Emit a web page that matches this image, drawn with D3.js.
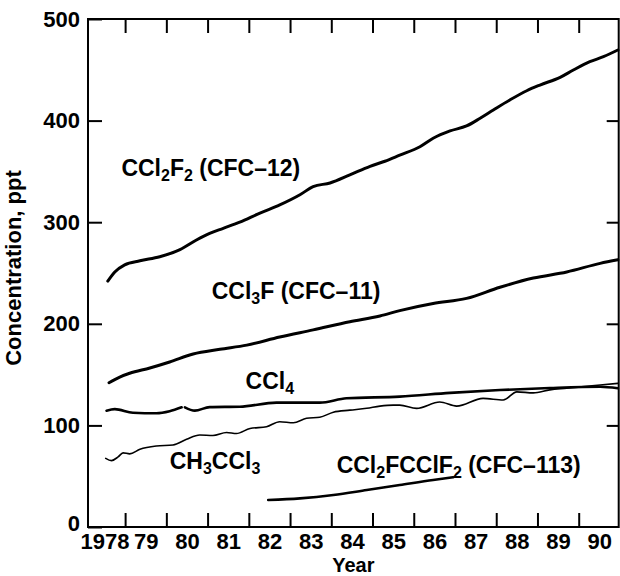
<!DOCTYPE html>
<html>
<head>
<meta charset="utf-8">
<script src="https://cdnjs.cloudflare.com/ajax/libs/d3/7.8.5/d3.min.js"></script>
<style>
body { margin: 0; background: #fff; }
text { font-family: "Liberation Sans", Arial, Helvetica, sans-serif; font-weight: bold; fill: #000; }
.axis .domain { display: none; }
.axis line { stroke: #000; stroke-width: 2; }
.frame { fill: none; stroke: #000; stroke-width: 2; }
.series { fill: none; stroke: #000; stroke-linejoin: round; stroke-linecap: round; }
</style>
</head>
<body>
<svg id="chart" width="620" height="576"></svg>
<script>
/* tick values and labels */
var yearTicks = [1979, 1980, 1981, 1982, 1983, 1984, 1985, 1986, 1987, 1988, 1989, 1990]
var yearLabels = ["1978", "79", "80", "81", "82", "83", "84", "85", "86", "87", "88", "89", "90"]
var labelYears = [1978, 1979, 1980, 1981, 1982, 1983, 1984, 1985, 1986, 1987, 1988, 1989, 1990]
var concTicks = [0, 100, 200, 300, 400, 500]
var frameTicks = [100, 200, 300, 400]

/* series: [year, ppt] */
var cfc12 = [[1978.58, 242], [1978.75, 251], [1978.99, 258], [1979.36, 262], [1979.84, 266],
  [1980.33, 273], [1980.73, 282.5], [1981.05, 289], [1981.38, 294], [1981.78, 300],
  [1982.27, 309], [1982.75, 317], [1983.24, 327], [1983.56, 335], [1983.97, 338.6],
  [1984.45, 346.5], [1984.94, 355], [1985.30, 360], [1985.66, 366], [1986.15, 374.3],
  [1986.47, 382.6], [1986.88, 389.8], [1987.28, 394.7], [1987.61, 402.3], [1987.93, 410.4],
  [1988.33, 420.3], [1988.74, 429.4], [1989.06, 435], [1989.55, 442.6], [1989.87, 449.8],
  [1990.27, 458], [1990.60, 462.9], [1990.95, 469.5]]

var cfc11 = [[1978.61, 142], [1978.87, 147.6], [1979.11, 151.3], [1979.60, 156.5], [1980.08, 162.4],
  [1980.65, 170.3], [1981.30, 174.9], [1981.95, 179], [1982.75, 187], [1983.56, 194],
  [1984.45, 202], [1985.18, 207.7], [1985.66, 213], [1986.47, 220], [1987.28, 225],
  [1988.09, 236], [1988.90, 245], [1989.71, 251], [1990.52, 259.5], [1990.95, 263]]

var ccl4 = [[1978.55, 114.5], [1978.75, 116], [1979.19, 112.5], [1979.76, 112], [1980.08, 114],
  [1980.37, 117.8], [1980.41, null], [1980.45, 117.8], [1980.69, 114.5], [1981.05, 118],
  [1981.78, 118.4], [1982.67, 122.4], [1983.72, 122.4], [1984.37, 126.7], [1985.66, 128.3],
  [1986.88, 132], [1988.09, 134.8], [1989.30, 136.8], [1990.52, 138], [1990.95, 136.5]]

var ch3ccl3 = [[1978.53, 67.6], [1978.67, 65.3], [1978.83, 69], [1978.95, 73], [1979.11, 72],
  [1979.36, 76.5], [1979.76, 79.7], [1980.16, 80.7], [1980.49, 86.3], [1980.81, 90.5],
  [1981.13, 90], [1981.46, 93], [1981.70, 92], [1982.03, 97], [1982.43, 98.7],
  [1982.75, 103.6], [1983.08, 102.6], [1983.40, 107], [1983.72, 108], [1984.05, 113],
  [1984.45, 115], [1984.86, 116.8], [1985.18, 119], [1985.50, 120], [1985.66, 120],
  [1986.07, 116.8], [1986.63, 123], [1987.04, 119], [1987.68, 126.6], [1988.17, 125],
  [1988.50, 133], [1988.90, 132], [1989.30, 135], [1989.71, 136.5], [1990.52, 139.8],
  [1990.95, 141.4]]

var cfc113 = [[1982.47, 26.6], [1983.24, 28.2], [1984.05, 31.5], [1984.86, 36.4],
  [1985.66, 41.3], [1986.47, 46.3], [1986.96, 49]]

/* curve labels, anchored at [year, ppt]; pieces marked "s" are subscripts */
var curveLabels = [
  {at: [1978.91, 345.8], parts: [["CCl"], ["2", "s"], ["F"], ["2", "s"], [" (CFC\u201312)"]]},
  {at: [1981.10, 224.1], parts: [["CCl"], ["3", "s"], ["F (CFC\u201311)"]]},
  {at: [1981.92, 135.5], parts: [["CCl"], ["4", "s"]]},
  {at: [1980.08, 57.1], parts: [["CH"], ["3", "s"], ["CCl"], ["3", "s"]]},
  {at: [1984.13, 53.4], parts: [["CCl"], ["2", "s"], ["FCClF"], ["2", "s"], [" (CFC\u2013113)"]]}
]

var series = [
  {data: cfc12, width: 3},
  {data: cfc11, width: 3},
  {data: ccl4, width: 2.6},
  {data: ch3ccl3, width: 1.6},
  {data: cfc113, width: 2.6}
]

var x = d3.scaleLinear().domain([1978.1, 1990.97]).range([88, 618.7])
var y = d3.scaleLinear().domain([0, 500]).range([527, 19])

var svg = d3.select("#chart")

/* tick marks, all pointing into the plot */
svg.append("g")
  .attr("class", "axis")
  .attr("transform", "translate(" + x.range()[0] + ",0)")
  .call(d3.axisLeft(y).tickValues(concTicks).tickSize(-14).tickPadding(8))
  .selectAll("text")
  .attr("font-size", 22)
  .attr("y", function(d) { return d == 0 ? -4 : 0 })  // the zero sits a bit high

svg.append("g")
  .attr("class", "axis")
  .attr("transform", "translate(" + x.range()[1] + ",0)")
  .call(d3.axisRight(y).tickValues(frameTicks).tickSize(-12).tickFormat(""))

svg.append("g")
  .attr("class", "axis")
  .attr("transform", "translate(0," + y(0) + ")")
  .call(d3.axisBottom(x).tickValues(yearTicks).tickSize(-14).tickFormat(""))

svg.append("g")
  .attr("class", "axis")
  .attr("transform", "translate(0," + y(500) + ")")
  .call(d3.axisTop(x).tickValues(yearTicks).tickSize(-14).tickFormat(""))

/* year labels sit in the middle of each year */
svg.append("g")
  .attr("class", "axis")
  .attr("transform", "translate(0," + y(0) + ")")
  .call(d3.axisBottom(x)
    .tickValues(labelYears.map(function(d) { return d + 0.5 }))
    .tickSize(0).tickPadding(6)
    .tickFormat(function(d, i) { return yearLabels[i] }))
  .selectAll("text")
  .attr("font-size", 22)

svg.append("rect")
  .attr("class", "frame")
  .attr("x", x.range()[0])
  .attr("y", y(500))
  .attr("width", x.range()[1] - x.range()[0])
  .attr("height", y(0) - y(500))

/* axis titles */
svg.append("text")
  .attr("x", (x.range()[0] + x.range()[1]) / 2)
  .attr("y", 572)
  .attr("text-anchor", "middle")
  .attr("font-size", 20)
  .text("Year")

svg.append("text")
  .attr("transform", "translate(21,268) rotate(-90)")
  .attr("text-anchor", "middle")
  .attr("font-size", 22)
  .text("Concentration, ppt")

/* the concentration curves */
var line = d3.line()
  .defined(function(d) { return d[1] != null })
  .x(function(d) { return x(d[0]) })
  .y(function(d) { return y(d[1]) })
  .curve(d3.curveMonotoneX)

svg.append("g").selectAll("path")
  .data(series)
  .enter()
  .append("path")
  .attr("class", "series")
  .attr("stroke-width", function(d) { return d.width })
  .attr("d", function(d) { return line(d.data) })

/* labels with subscripts */
var labels = svg.append("g").selectAll("text")
  .data(curveLabels)
  .enter()
  .append("text")
  .attr("x", function(d) { return x(d.at[0]) })
  .attr("y", function(d) { return y(d.at[1]) })
  .attr("font-size", 23)

labels.each(function(d) {
  var t = d3.select(this)
  var shift = 0
  d.parts.forEach(function(p) {
    var sub = p[1] == "s"
    var dy = sub ? 5 - shift : -shift
    t.append("tspan")
      .attr("dy", dy)
      .attr("font-size", sub ? 16 : 23)
      .text(p[0])
    shift = sub ? 5 : 0
  })
})
</script>
</body>
</html>
